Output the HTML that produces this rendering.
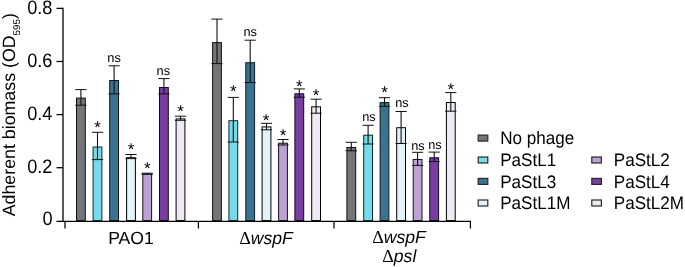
<!DOCTYPE html>
<html><head><meta charset="utf-8"><title>Adherent biomass</title>
<style>
html,body{margin:0;padding:0;background:#fff;}
svg{display:block;will-change:transform;font-family:"Liberation Sans",Arial,sans-serif;fill:#000;text-rendering:geometricPrecision;}
</style></head><body>
<svg width="685" height="267" viewBox="0 0 685 267">
<rect width="685" height="267" fill="#fff"/>

<rect x="76.5" y="98.1" width="8.8" height="122.5" fill="#747579" stroke="#111" stroke-width="1"/>
<path d="M80.9 89.6V105.2" stroke="#111" stroke-width="1.1" fill="none"/>
<path d="M75.3 89.6H86.5M75.3 105.2H86.5" stroke="#111" stroke-width="1" fill="none"/>
<rect x="93.1" y="147.0" width="8.8" height="73.6" fill="#76dbe8" stroke="#0a2a30" stroke-width="1"/>
<path d="M97.5 132.3V159.6" stroke="#111" stroke-width="1.1" fill="none"/>
<path d="M91.9 132.3H103.1M91.9 159.6H103.1" stroke="#111" stroke-width="1" fill="none"/>
<text x="97.5" y="132.7" font-size="17" text-anchor="middle">*</text>
<rect x="109.7" y="80.5" width="8.8" height="140.1" fill="#39738f" stroke="#0a1a22" stroke-width="1"/>
<path d="M114.1 65.8V93.9" stroke="#111" stroke-width="1.1" fill="none"/>
<path d="M108.5 65.8H119.7M108.5 93.9H119.7" stroke="#111" stroke-width="1" fill="none"/>
<text x="114.1" y="61.9" font-size="12.8" text-anchor="middle">ns</text>
<rect x="126.6" y="157.7" width="8.8" height="62.9" fill="#e2f4f9" stroke="#000" stroke-width="1"/>
<path d="M131.0 154.5V158.6" stroke="#111" stroke-width="1.1" fill="none"/>
<path d="M125.4 154.5H136.6M125.4 158.6H136.6" stroke="#111" stroke-width="1" fill="none"/>
<text x="131.0" y="154.9" font-size="17" text-anchor="middle">*</text>
<rect x="142.8" y="174.1" width="8.8" height="46.5" fill="#bba3d4" stroke="#15101c" stroke-width="1"/>
<path d="M147.2 173.2V174.2" stroke="#111" stroke-width="1.1" fill="none"/>
<path d="M141.6 173.2H152.8M141.6 174.2H152.8" stroke="#111" stroke-width="1" fill="none"/>
<text x="147.2" y="173.6" font-size="17" text-anchor="middle">*</text>
<rect x="159.5" y="87.5" width="8.8" height="133.1" fill="#7a3ea2" stroke="#12081e" stroke-width="1"/>
<path d="M163.9 78.6V93.9" stroke="#111" stroke-width="1.1" fill="none"/>
<path d="M158.3 78.6H169.5M158.3 93.9H169.5" stroke="#111" stroke-width="1" fill="none"/>
<text x="163.3" y="75.0" font-size="12.8" text-anchor="middle">ns</text>
<rect x="176.1" y="118.9" width="8.8" height="101.7" fill="#efe9f3" stroke="#000" stroke-width="1"/>
<path d="M180.5 116.2V120.3" stroke="#111" stroke-width="1.1" fill="none"/>
<path d="M174.9 116.2H186.1M174.9 120.3H186.1" stroke="#111" stroke-width="1" fill="none"/>
<text x="180.5" y="116.6" font-size="17" text-anchor="middle">*</text>
<rect x="212.6" y="42.6" width="8.8" height="178.0" fill="#747579" stroke="#111" stroke-width="1"/>
<path d="M217.0 19.1V63.6" stroke="#111" stroke-width="1.1" fill="none"/>
<path d="M211.4 19.1H222.6M211.4 63.6H222.6" stroke="#111" stroke-width="1" fill="none"/>
<rect x="228.9" y="120.7" width="8.8" height="99.9" fill="#76dbe8" stroke="#0a2a30" stroke-width="1"/>
<path d="M233.3 97.4V142.0" stroke="#111" stroke-width="1.1" fill="none"/>
<path d="M227.7 97.4H238.9M227.7 142.0H238.9" stroke="#111" stroke-width="1" fill="none"/>
<text x="233.3" y="97.3" font-size="17" text-anchor="middle">*</text>
<rect x="245.8" y="62.7" width="8.8" height="157.9" fill="#39738f" stroke="#0a1a22" stroke-width="1"/>
<path d="M250.2 40.2V82.6" stroke="#111" stroke-width="1.1" fill="none"/>
<path d="M244.6 40.2H255.8M244.6 82.6H255.8" stroke="#111" stroke-width="1" fill="none"/>
<text x="250.2" y="36.3" font-size="12.8" text-anchor="middle">ns</text>
<rect x="262.1" y="126.9" width="8.8" height="93.7" fill="#e2f4f9" stroke="#000" stroke-width="1"/>
<path d="M266.5 123.3V129.8" stroke="#111" stroke-width="1.1" fill="none"/>
<path d="M260.9 123.3H272.1M260.9 129.8H272.1" stroke="#111" stroke-width="1" fill="none"/>
<text x="266.0" y="125.7" font-size="17" text-anchor="middle">*</text>
<rect x="278.6" y="143.2" width="8.8" height="77.4" fill="#bba3d4" stroke="#15101c" stroke-width="1"/>
<path d="M283.0 139.5V145.0" stroke="#111" stroke-width="1.1" fill="none"/>
<path d="M277.4 139.5H288.6M277.4 145.0H288.6" stroke="#111" stroke-width="1" fill="none"/>
<text x="283.0" y="141.4" font-size="17" text-anchor="middle">*</text>
<rect x="294.9" y="93.8" width="8.8" height="126.8" fill="#7a3ea2" stroke="#12081e" stroke-width="1"/>
<path d="M299.3 88.9V97.2" stroke="#111" stroke-width="1.1" fill="none"/>
<path d="M293.7 88.9H304.9M293.7 97.2H304.9" stroke="#111" stroke-width="1" fill="none"/>
<text x="299.3" y="92.3" font-size="17" text-anchor="middle">*</text>
<rect x="311.7" y="106.8" width="8.8" height="113.8" fill="#efe9f3" stroke="#000" stroke-width="1"/>
<path d="M316.1 99.2V113.2" stroke="#111" stroke-width="1.1" fill="none"/>
<path d="M310.5 99.2H321.7M310.5 113.2H321.7" stroke="#111" stroke-width="1" fill="none"/>
<text x="316.1" y="100.5" font-size="17" text-anchor="middle">*</text>
<rect x="346.9" y="147.5" width="8.8" height="73.1" fill="#747579" stroke="#111" stroke-width="1"/>
<path d="M351.3 142.3V150.8" stroke="#111" stroke-width="1.1" fill="none"/>
<path d="M345.7 142.3H356.9M345.7 150.8H356.9" stroke="#111" stroke-width="1" fill="none"/>
<rect x="363.7" y="135.2" width="8.8" height="85.4" fill="#76dbe8" stroke="#0a2a30" stroke-width="1"/>
<path d="M368.1 125.3V144.0" stroke="#111" stroke-width="1.1" fill="none"/>
<path d="M362.5 125.3H373.7M362.5 144.0H373.7" stroke="#111" stroke-width="1" fill="none"/>
<text x="368.9" y="120.8" font-size="12.8" text-anchor="middle">ns</text>
<rect x="380.1" y="102.6" width="8.8" height="118.0" fill="#39738f" stroke="#0a1a22" stroke-width="1"/>
<path d="M384.5 97.7V106.3" stroke="#111" stroke-width="1.1" fill="none"/>
<path d="M378.9 97.7H390.1M378.9 106.3H390.1" stroke="#111" stroke-width="1" fill="none"/>
<text x="384.5" y="98.1" font-size="17" text-anchor="middle">*</text>
<rect x="396.7" y="127.7" width="8.8" height="92.9" fill="#e2f4f9" stroke="#000" stroke-width="1"/>
<path d="M401.1 111.5V143.5" stroke="#111" stroke-width="1.1" fill="none"/>
<path d="M395.5 111.5H406.7M395.5 143.5H406.7" stroke="#111" stroke-width="1" fill="none"/>
<text x="402.0" y="107.0" font-size="12.8" text-anchor="middle">ns</text>
<rect x="413.2" y="159.5" width="8.8" height="61.1" fill="#bba3d4" stroke="#15101c" stroke-width="1"/>
<path d="M417.6 152.3V165.4" stroke="#111" stroke-width="1.1" fill="none"/>
<path d="M412.0 152.3H423.2M412.0 165.4H423.2" stroke="#111" stroke-width="1" fill="none"/>
<text x="417.9" y="149.5" font-size="12.8" text-anchor="middle">ns</text>
<rect x="429.8" y="157.8" width="8.8" height="62.8" fill="#7a3ea2" stroke="#12081e" stroke-width="1"/>
<path d="M434.2 152.1V161.6" stroke="#111" stroke-width="1.1" fill="none"/>
<path d="M428.6 152.1H439.8M428.6 161.6H439.8" stroke="#111" stroke-width="1" fill="none"/>
<text x="435.0" y="149.3" font-size="12.8" text-anchor="middle">ns</text>
<rect x="446.4" y="102.5" width="8.8" height="118.1" fill="#efe9f3" stroke="#000" stroke-width="1"/>
<path d="M450.8 92.6V111.2" stroke="#111" stroke-width="1.1" fill="none"/>
<path d="M445.2 92.6H456.4M445.2 111.2H456.4" stroke="#111" stroke-width="1" fill="none"/>
<text x="450.8" y="95.2" font-size="17" text-anchor="middle">*</text>
<path d="M63 7.8V221.4" stroke="#000" stroke-width="1.3" fill="none"/>
<path d="M56.5 8.4H63" stroke="#000" stroke-width="1.3" fill="none"/>
<text transform="translate(52.5,14.0) scale(1,1.07)" font-size="18.2" text-anchor="end">0.8</text>
<path d="M56.5 61.5H63" stroke="#000" stroke-width="1.3" fill="none"/>
<text transform="translate(52.5,67.1) scale(1,1.07)" font-size="18.2" text-anchor="end">0.6</text>
<path d="M56.5 114.6H63" stroke="#000" stroke-width="1.3" fill="none"/>
<text transform="translate(52.5,120.2) scale(1,1.07)" font-size="18.2" text-anchor="end">0.4</text>
<path d="M56.5 167.7H63" stroke="#000" stroke-width="1.3" fill="none"/>
<text transform="translate(52.5,173.3) scale(1,1.07)" font-size="18.2" text-anchor="end">0.2</text>
<text transform="translate(52.5,225.3) scale(1,1.07)" font-size="18.2" text-anchor="end">0</text>
<path d="M56.5 221.4H470.4V228.5M65 221.4V228.5M198.4 221.4V228.5M334 221.4V228.5" stroke="#000" stroke-width="1.25" fill="none"/>
<text x="131" y="243.6" font-size="17.6" text-anchor="middle">PAO1</text>
<text x="266" y="243.6" font-size="17.6" text-anchor="middle"><tspan font-family="Liberation Serif" font-size="18">Δ</tspan><tspan font-style="italic">wspF</tspan></text>
<text x="399" y="243.1" font-size="17.6" text-anchor="middle"><tspan font-family="Liberation Serif" font-size="18">Δ</tspan><tspan font-style="italic">wspF</tspan></text>
<text x="399.3" y="261.7" font-size="17.6" text-anchor="middle"><tspan font-family="Liberation Serif" font-size="18">Δ</tspan><tspan font-style="italic">psl</tspan></text>
<text transform="translate(14.8,216.3) rotate(-90)" font-size="17.8">Adherent biomass (OD<tspan font-size="9.8" dy="5.3">595</tspan><tspan dy="-5.3">)</tspan></text>
<rect x="478.2" y="135.1" width="9.6" height="6.0" fill="#747579" stroke="#2a2a2a" stroke-width="1.2"/>
<text transform="translate(500.2,144.2) scale(1,1.06)" font-size="17.1">No phage</text>
<rect x="478.2" y="157.0" width="9.6" height="6.0" fill="#76dbe8" stroke="#2a2a2a" stroke-width="1.2"/>
<text transform="translate(500.2,166.1) scale(1,1.06)" font-size="17.1">PaStL1</text>
<rect x="478.2" y="178.4" width="9.6" height="6.0" fill="#39738f" stroke="#2a2a2a" stroke-width="1.2"/>
<text transform="translate(500.2,187.5) scale(1,1.06)" font-size="17.1">PaStL3</text>
<rect x="478.2" y="200.0" width="9.6" height="6.0" fill="#e2f4f9" stroke="#2a2a2a" stroke-width="1.2"/>
<text transform="translate(500.2,209.1) scale(1,1.06)" font-size="17.1">PaStL1M</text>
<rect x="591.8" y="157.0" width="9.6" height="6.0" fill="#bba3d4" stroke="#2a2a2a" stroke-width="1.2"/>
<text transform="translate(613.8,166.1) scale(1,1.06)" font-size="17.1">PaStL2</text>
<rect x="591.8" y="178.4" width="9.6" height="6.0" fill="#7a3ea2" stroke="#2a2a2a" stroke-width="1.2"/>
<text transform="translate(613.8,187.5) scale(1,1.06)" font-size="17.1">PaStL4</text>
<rect x="591.8" y="200.0" width="9.6" height="6.0" fill="#efe9f3" stroke="#2a2a2a" stroke-width="1.2"/>
<text transform="translate(613.8,209.1) scale(1,1.06)" font-size="17.1">PaStL2M</text>
</svg></body></html>
